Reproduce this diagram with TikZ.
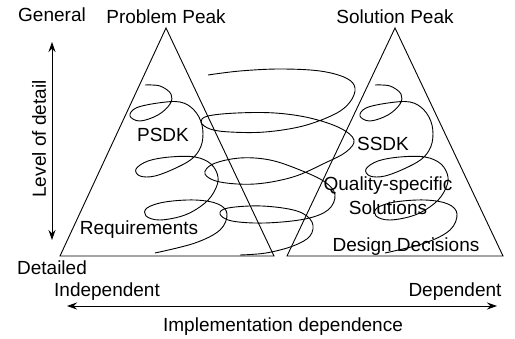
\documentclass[tikz,border=0pt]{standalone}
\usepackage{fontspec}
\setmainfont{Liberation Sans}
\usetikzlibrary{arrows.meta}

\begin{document}
\begin{tikzpicture}[
x=1pt, y=-1pt,
every node/.style={font=\fontsize{19}{24}\selectfont, inner sep=0pt},
txt/.style={anchor=base},
peak/.style={draw, line width=0.9pt, line join=miter},
coil/.style={draw, line width=0.9pt},
axisarrow/.style={draw, line width=0.9pt, {Stealth[length=10pt,width=7pt]}-{Stealth[length=10pt,width=7pt]}}
]
\useasboundingbox (0,0) rectangle (515,339);
% Peaks
\coordinate (pp-top) at (166,28);
\coordinate (pp-left) at (60,256);
\coordinate (pp-right) at (274,256);
\coordinate (sp-top) at (395,28);
\coordinate (sp-left) at (287,256);
\coordinate (sp-right) at (503,256);
\draw[peak] (pp-top) -- (pp-left) -- (pp-right) -- cycle;
\draw[peak] (sp-top) -- (sp-left) -- (sp-right) -- cycle;
% Coils inside the peaks
\foreach \dx in {0,230} {
  \draw[coil, shift={(\dx,0)}] plot[smooth, tension=0.6] coordinates {
    (145,85) (160,86) (171,94) (170,104) (158,115) (140,121) (130,116)
    (136,108) (158,103) (180,102) (194,110) (202,125) (202,143) (194,157)
    (178,167) (155,176) (140,176) (136,169) (148,161) (170,157) (195,157)
    (211,164) (218,177) (215,190) (205,203) (185,215) (160,220) (146,216)
    (147,208) (165,202) (195,200) (218,204) (227,214) (220,230) (195,243)
    (155,253)};
}
% Spiral between the peaks
\draw[coil] plot[smooth, tension=0.6] coordinates {
  (208,75) (240,71) (280,69) (320,71) (346,78) (355,88) (350,102) (335,114)
  (303,126) (265,132) (230,132) (210,129) (201,122) (208,116) (237,113)
  (275,113) (310,118) (340,128) (354,140) (346,152) (325,163) (293,177)
  (255,184) (220,182) (205,174) (213,164) (240,158) (270,160) (300,170)
  (325,182) (335,195) (328,210) (305,219) (265,223) (232,221) (220,214)
  (228,208) (262,206) (297,211) (312,222) (310,236) (293,246) (266,253)
  (240,255)};
% Labels
\node[txt] (general) at (52,22) {General};
\node[txt] (problem) at (166,24) {Problem Peak};
\node[txt] (solution) at (395,24) {Solution Peak};
\node[txt] (psdk) at (163,142) {PSDK};
\node[txt] (req) at (139,235) {Requirements};
\node[txt] (ssdk) at (383,151) {SSDK};
\node[align=center] (quality) at (388,196) {Quality-specific\\Solutions};
\node[txt] (design) at (406,252) {Design Decisions};
\node[txt] (detailed) at (52,275) {Detailed};
\node[txt] (independent) at (107,297) {Independent};
\node[txt] (dependent) at (455,297) {Dependent};
\node[txt] (impl) at (283,332) {Implementation dependence};
\node[rotate=90] (level) at (39,139) {Level of detail};
% Axes
\coordinate (general-end) at (52,42);
\coordinate (detailed-end) at (52,240);
\coordinate (indep-end) at (67,306);
\coordinate (dep-end) at (497,306);
\draw[axisarrow] (general-end) -- (detailed-end);
\draw[axisarrow] (indep-end) -- (dep-end);
\end{tikzpicture}
\end{document}
